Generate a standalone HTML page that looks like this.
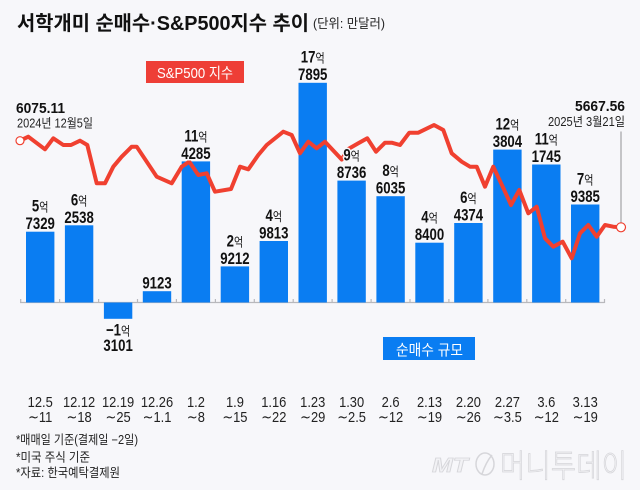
<!DOCTYPE html>
<html><head><meta charset="utf-8">
<style>
html,body{margin:0;padding:0;background:#f7f7fa;}
svg{display:block;}
text{font-family:"Liberation Sans","Noto Sans CJK KR",sans-serif;}
.n{font-weight:bold;font-size:16.5px;fill:#111;stroke:#f7f7fa;stroke-width:3px;paint-order:stroke;}
.u{font-weight:normal;font-size:12.5px;}
.ax{font-size:15px;fill:#222;}
.tl{font-family:"DejaVu Sans","Liberation Sans",sans-serif;}
</style></head>
<body>
<svg width="640" height="490" viewBox="0 0 640 490" xmlns="http://www.w3.org/2000/svg">
<rect width="640" height="490" fill="#f7f7fa"/>

<!-- title -->
<text x="17" y="30" font-size="20" font-weight="bold" fill="#111" textLength="292" lengthAdjust="spacingAndGlyphs">서학개미 순매수·S&amp;P500지수 추이</text>
<text x="313" y="28" font-size="13" fill="#222" textLength="72" lengthAdjust="spacingAndGlyphs">(단위: 만달러)</text>

<!-- legend boxes -->
<rect x="146" y="61" width="98" height="22" fill="#ee3e36"/>
<text x="157" y="78" font-size="15" fill="#fff" textLength="76" lengthAdjust="spacingAndGlyphs">S&amp;P500 지수</text>
<rect x="383" y="337" width="92" height="23" fill="#0a7df2"/>
<text x="396" y="355" font-size="15" fill="#fff" textLength="67" lengthAdjust="spacingAndGlyphs">순매수 규모</text>

<!-- axis -->
<line x1="20" y1="302.5" x2="604.5" y2="302.5" stroke="#b8b8bc" stroke-width="1.2"/>
<g stroke="#b8b8bc" stroke-width="1.2">
<line x1="20.7" y1="299" x2="20.7" y2="303"/><line x1="59.6" y1="299" x2="59.6" y2="303"/>
<line x1="98.6" y1="299" x2="98.6" y2="303"/><line x1="137.5" y1="299" x2="137.5" y2="303"/>
<line x1="176.4" y1="299" x2="176.4" y2="303"/><line x1="215.4" y1="299" x2="215.4" y2="303"/>
<line x1="254.3" y1="299" x2="254.3" y2="303"/><line x1="293.2" y1="299" x2="293.2" y2="303"/>
<line x1="332.1" y1="299" x2="332.1" y2="303"/><line x1="371.1" y1="299" x2="371.1" y2="303"/>
<line x1="410" y1="299" x2="410" y2="303"/><line x1="448.9" y1="299" x2="448.9" y2="303"/>
<line x1="487.9" y1="299" x2="487.9" y2="303"/><line x1="526.8" y1="299" x2="526.8" y2="303"/>
<line x1="565.7" y1="299" x2="565.7" y2="303"/><line x1="604.5" y1="299" x2="604.5" y2="303"/>
</g>

<!-- bars -->
<g fill="#0a7df2">
<rect x="26" y="231.7" width="28.4" height="70.8"/>
<rect x="64.9" y="225.3" width="28.4" height="77.2"/>
<rect x="103.9" y="302.5" width="28.4" height="16.3"/>
<rect x="142.8" y="291.2" width="28.4" height="11.3"/>
<rect x="181.7" y="161.4" width="28.4" height="141.1"/>
<rect x="220.7" y="266.4" width="28.4" height="36.1"/>
<rect x="259.6" y="241" width="28.4" height="61.5"/>
<rect x="298.5" y="82.8" width="28.4" height="219.7"/>
<rect x="337.4" y="180.6" width="28.4" height="121.9"/>
<rect x="376.4" y="196.2" width="28.4" height="106.3"/>
<rect x="415.3" y="242.7" width="28.4" height="59.8"/>
<rect x="454.2" y="223" width="28.4" height="79.5"/>
<rect x="493.2" y="149.6" width="28.4" height="152.9"/>
<rect x="532.1" y="164.5" width="28.4" height="138"/>
<rect x="571" y="204.5" width="28.4" height="98"/>
</g>

<!-- S&P line -->
<line x1="621" y1="131.5" x2="621" y2="224" stroke="#a8a8ac" stroke-width="1.3"/>
<polyline fill="none" stroke="#f04030" stroke-width="4" stroke-linejoin="round" stroke-linecap="round" points="20,140.7 28.3,136.7 45,149.3 53.3,138.3 63.3,145 71,145 80,140.7 87.3,145 96.7,183.3 105,183.3 113.3,166.7 121.7,156.7 131.7,146.7 136.7,146.7 146.7,161.7 156.7,176.7 171.7,183.3 181.7,166.7 189.3,161.7 198.3,175 206.7,173.3 215,191.7 231,189 240,166.7 248.3,169.3 258.3,155 266.7,145 283.3,131.7 291.7,135 300,153.3 308.3,141.7 316.7,148.3 325,141.7 341.7,159.5 348.3,149 358.3,143.3 367.3,138.3 376,151.7 385,142.7 391.7,142.7 400,145 409.3,132.7 418.3,132.7 434,125 443.3,130 451.7,153.3 461.7,161.7 470,166.7 476.7,166.7 485,186.7 493.3,166.7 502.7,186.7 511,205 519.3,190 528.3,213.3 536.7,206.7 545,238.3 553.3,246.7 562.7,241.7 571.7,258.3 580,233.3 588.3,225 596.7,236.7 605,225 613.3,226.7 620.7,227.3"/>
<circle cx="20" cy="140.7" r="4" fill="#fff" stroke="#f04030" stroke-width="1.2"/>
<circle cx="621" cy="227.3" r="4.5" fill="#fff" stroke="#f04030" stroke-width="1.2"/>

<!-- end labels -->
<text x="16" y="113" font-size="15" font-weight="bold" fill="#111" textLength="49" lengthAdjust="spacingAndGlyphs">6075.11</text>
<text x="17" y="127.5" font-size="12.5" fill="#222" textLength="76" lengthAdjust="spacingAndGlyphs">2024년 12월5일</text>
<text x="575" y="111" font-size="15" font-weight="bold" fill="#111" textLength="50" lengthAdjust="spacingAndGlyphs">5667.56</text>
<text x="548" y="126" font-size="12.5" fill="#222" textLength="77" lengthAdjust="spacingAndGlyphs">2025년 3월21일</text>

<!-- bar labels -->
<g text-anchor="middle">
<text class="n" transform="translate(40.2,211.7) scale(0.8,1)">5<tspan class="u">억</tspan></text>
<text class="n" transform="translate(40.2,229.2) scale(0.8,1)">7329</text>
<text class="n" transform="translate(79.1,205.3) scale(0.8,1)">6<tspan class="u">억</tspan></text>
<text class="n" transform="translate(79.1,222.8) scale(0.8,1)">2538</text>
<text class="n" transform="translate(118.1,335.5) scale(0.8,1)">−1<tspan class="u">억</tspan></text>
<text class="n" transform="translate(118.1,351) scale(0.8,1)">3101</text>
<text class="n" transform="translate(157,288.5) scale(0.8,1)">9123</text>
<text class="n" transform="translate(195.9,141.4) scale(0.8,1)">11<tspan class="u">억</tspan></text>
<text class="n" transform="translate(195.9,158.9) scale(0.8,1)">4285</text>
<text class="n" transform="translate(234.9,246.4) scale(0.8,1)">2<tspan class="u">억</tspan></text>
<text class="n" transform="translate(234.9,263.9) scale(0.8,1)">9212</text>
<text class="n" transform="translate(273.8,221) scale(0.8,1)">4<tspan class="u">억</tspan></text>
<text class="n" transform="translate(273.8,238.5) scale(0.8,1)">9813</text>
<text class="n" transform="translate(312.7,62.3) scale(0.8,1)">17<tspan class="u">억</tspan></text>
<text class="n" transform="translate(312.7,79.8) scale(0.8,1)">7895</text>
<text class="n" transform="translate(351.6,160.6) scale(0.8,1)">9<tspan class="u">억</tspan></text>
<text class="n" transform="translate(351.6,178.1) scale(0.8,1)">8736</text>
<text class="n" transform="translate(390.6,176.2) scale(0.8,1)">8<tspan class="u">억</tspan></text>
<text class="n" transform="translate(390.6,193.7) scale(0.8,1)">6035</text>
<text class="n" transform="translate(429.5,222.7) scale(0.8,1)">4<tspan class="u">억</tspan></text>
<text class="n" transform="translate(429.5,240.2) scale(0.8,1)">8400</text>
<text class="n" transform="translate(468.4,203) scale(0.8,1)">6<tspan class="u">억</tspan></text>
<text class="n" transform="translate(468.4,220.5) scale(0.8,1)">4374</text>
<text class="n" transform="translate(507.4,129.6) scale(0.8,1)">12<tspan class="u">억</tspan></text>
<text class="n" transform="translate(507.4,147.1) scale(0.8,1)">3804</text>
<text class="n" transform="translate(546.3,144.5) scale(0.8,1)">11<tspan class="u">억</tspan></text>
<text class="n" transform="translate(546.3,162) scale(0.8,1)">1745</text>
<text class="n" transform="translate(585.2,184.5) scale(0.8,1)">7<tspan class="u">억</tspan></text>
<text class="n" transform="translate(585.2,202) scale(0.8,1)">9385</text>
</g>

<!-- x axis labels -->
<g text-anchor="middle" class="ax">
<text transform="translate(40.2,407) scale(0.86,1)">12.5</text>
<text transform="translate(79.1,407) scale(0.86,1)">12.12</text>
<text transform="translate(118.1,407) scale(0.86,1)">12.19</text>
<text transform="translate(157,407) scale(0.86,1)">12.26</text>
<text transform="translate(195.9,407) scale(0.86,1)">1.2</text>
<text transform="translate(234.9,407) scale(0.86,1)">1.9</text>
<text transform="translate(273.8,407) scale(0.86,1)">1.16</text>
<text transform="translate(312.7,407) scale(0.86,1)">1.23</text>
<text transform="translate(351.6,407) scale(0.86,1)">1.30</text>
<text transform="translate(390.6,407) scale(0.86,1)">2.6</text>
<text transform="translate(429.5,407) scale(0.86,1)">2.13</text>
<text transform="translate(468.4,407) scale(0.86,1)">2.20</text>
<text transform="translate(507.4,407) scale(0.86,1)">2.27</text>
<text transform="translate(546.3,407) scale(0.86,1)">3.6</text>
<text transform="translate(585.2,407) scale(0.86,1)">3.13</text>

<text transform="translate(40.2,422) scale(0.86,1)"><tspan class="tl">∼</tspan>11</text>
<text transform="translate(79.1,422) scale(0.86,1)"><tspan class="tl">∼</tspan>18</text>
<text transform="translate(118.1,422) scale(0.86,1)"><tspan class="tl">∼</tspan>25</text>
<text transform="translate(157,422) scale(0.86,1)"><tspan class="tl">∼</tspan>1.1</text>
<text transform="translate(195.9,422) scale(0.86,1)"><tspan class="tl">∼</tspan>8</text>
<text transform="translate(234.9,422) scale(0.86,1)"><tspan class="tl">∼</tspan>15</text>
<text transform="translate(273.8,422) scale(0.86,1)"><tspan class="tl">∼</tspan>22</text>
<text transform="translate(312.7,422) scale(0.86,1)"><tspan class="tl">∼</tspan>29</text>
<text transform="translate(351.6,422) scale(0.86,1)"><tspan class="tl">∼</tspan>2.5</text>
<text transform="translate(390.6,422) scale(0.86,1)"><tspan class="tl">∼</tspan>12</text>
<text transform="translate(429.5,422) scale(0.86,1)"><tspan class="tl">∼</tspan>19</text>
<text transform="translate(468.4,422) scale(0.86,1)"><tspan class="tl">∼</tspan>26</text>
<text transform="translate(507.4,422) scale(0.86,1)"><tspan class="tl">∼</tspan>3.5</text>
<text transform="translate(546.3,422) scale(0.86,1)"><tspan class="tl">∼</tspan>12</text>
<text transform="translate(585.2,422) scale(0.86,1)"><tspan class="tl">∼</tspan>19</text>
</g>

<!-- footnotes -->
<text x="16" y="444" font-size="12.5" fill="#222" textLength="122" lengthAdjust="spacingAndGlyphs">*매매일 기준(결제일 −2일)</text>
<text x="16" y="461.5" font-size="12.5" fill="#222" textLength="74" lengthAdjust="spacingAndGlyphs">*미국 주식 기준</text>
<text x="16" y="477" font-size="12.5" fill="#222" textLength="104" lengthAdjust="spacingAndGlyphs">*자료: 한국예탁결제원</text>

<!-- watermark -->
<g fill="#f2f2f5" stroke="#d6d6da" stroke-width="0.8">
<text x="432" y="472" font-size="20" font-style="italic" font-weight="bold" textLength="36" lengthAdjust="spacingAndGlyphs">MT</text>
<ellipse cx="485" cy="464" rx="9" ry="11" fill="none" stroke="#d6d6da" stroke-width="1.5"/>
<path d="M482 474 Q486 462 492 455" fill="none" stroke="#d6d6da" stroke-width="1.5"/>
<text x="500" y="477" font-size="32" font-weight="300" textLength="127" lengthAdjust="spacingAndGlyphs">머니투데이</text>
</g>
</svg>
</body></html>
